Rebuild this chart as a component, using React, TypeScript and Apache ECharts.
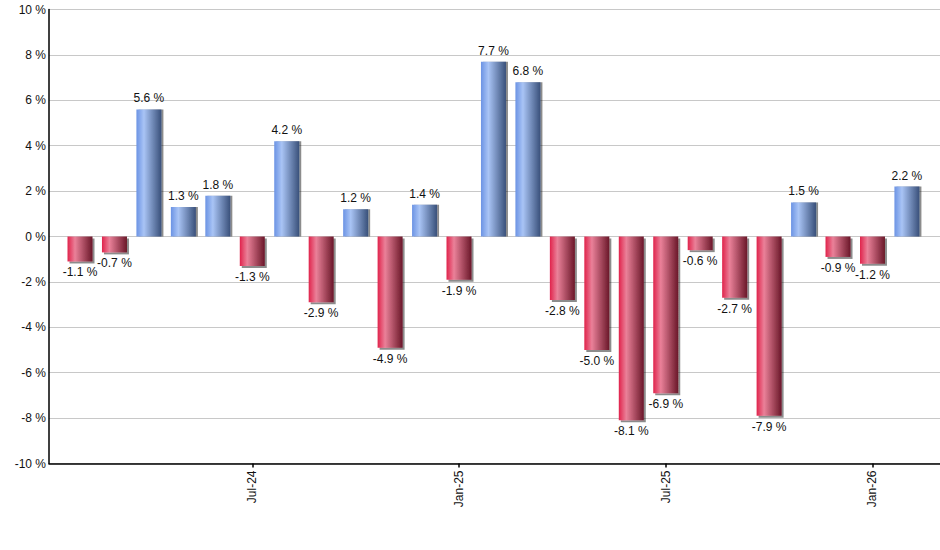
import React, { useEffect, useRef } from "react";
import * as echarts from "echarts";

const months = [
  "Feb-24", "Mar-24", "Apr-24", "May-24", "Jun-24", "Jul-24", "Aug-24", "Sep-24", "Oct-24",
  "Nov-24", "Dec-24", "Jan-25", "Feb-25", "Mar-25", "Apr-25", "May-25", "Jun-25", "Jul-25",
  "Aug-25", "Sep-25", "Oct-25", "Nov-25", "Dec-25", "Jan-26", "Feb-26",
];
const returns = [
  -1.1, -0.7, 5.6, 1.3, 1.8, -1.3, 4.2, -2.9, 1.2, -4.9, 1.4, -1.9, 7.7, 6.8, -2.8, -5.0,
  -8.1, -6.9, -0.6, -2.7, -7.9, 1.5, -0.9, -1.2, 2.2,
];
const labelledMonths = ["Jul-24", "Jan-25", "Jul-25", "Jan-26"];
const yTicks = [-10, -8, -6, -4, -2, 0, 2, 4, 6, 8, 10];

const FONT = "'Liberation Sans', Arial, sans-serif";

const blue = new echarts.graphic.LinearGradient(0, 0, 1, 0, [
  { offset: 0, color: "#6b93e4" },
  { offset: 0.3, color: "#a9c4f5" },
  { offset: 1, color: "#39507a" },
]);
const red = new echarts.graphic.LinearGradient(0, 0, 1, 0, [
  { offset: 0, color: "#e0234b" },
  { offset: 0.3, color: "#ea8199" },
  { offset: 1, color: "#6a1729" },
]);

export default function App() {
  const ref = useRef<HTMLDivElement>(null);
  useEffect(() => {
    document.body.style.margin = "0";
    const chart = echarts.init(ref.current!, null, { renderer: "svg" });
    const labelIdx = labelledMonths.map((m) => months.indexOf(m));
    chart.setOption({
      animation: false,
      backgroundColor: "#ffffff",
      textStyle: { fontFamily: FONT },
      grid: { left: 49, right: 0, top: 9.5, bottom: 86.5, containLabel: false },
      xAxis: {
        type: "value",
        min: -0.9,
        max: 24.96,
        splitLine: { show: false },
        axisLine: { show: true, onZero: false, lineStyle: { color: "#000", width: 1.5 } },
        axisTick: { show: true, length: 4, customValues: labelIdx, lineStyle: { color: "#000", width: 1.5 } },
        axisLabel: {
          customValues: labelIdx,
          rotate: 90,
          margin: 7,
          fontSize: 12,
          color: "#111",
          fontFamily: FONT,
          formatter: (v: number) => months[Math.round(v)] ?? "",
        },
      },
      yAxis: {
        type: "value",
        min: yTicks[0],
        max: yTicks[yTicks.length - 1],
        interval: 2,
        axisLine: { show: true, onZero: false, lineStyle: { color: "#000", width: 1.5 } },
        axisTick: { show: false },
        splitLine: { show: true, lineStyle: { color: "#c8c8c8", width: 1 } },
        axisLabel: {
          margin: 3,
          fontSize: 12,
          color: "#111",
          fontFamily: FONT,
          formatter: (v: number) => `${v} %`,
        },
      },
      series: [
        {
          type: "bar",
          barWidth: 25,
          data: returns.map((v, i) => ({
            value: [i, v],
            itemStyle: {
              color: v >= 0 ? blue : red,
              shadowColor: "rgba(0,0,0,0.45)",
              shadowOffsetX: 2,
              shadowOffsetY: v >= 0 ? 0 : 2,
              shadowBlur: 1,
            },
            label: {
              show: true,
              position: v >= 0 ? "top" : "bottom",
              distance: 5,
              fontSize: 12,
              color: "#111",
              fontFamily: FONT,
              formatter: () => `${v.toFixed(1)} %`,
            },
          })),
        },
      ],
    });
    return () => chart.dispose();
  }, []);
  return (
    <div
      ref={ref}
      style={{ position: "absolute", left: 0, top: 0, width: 940, height: 550 }}
    />
  );
}
